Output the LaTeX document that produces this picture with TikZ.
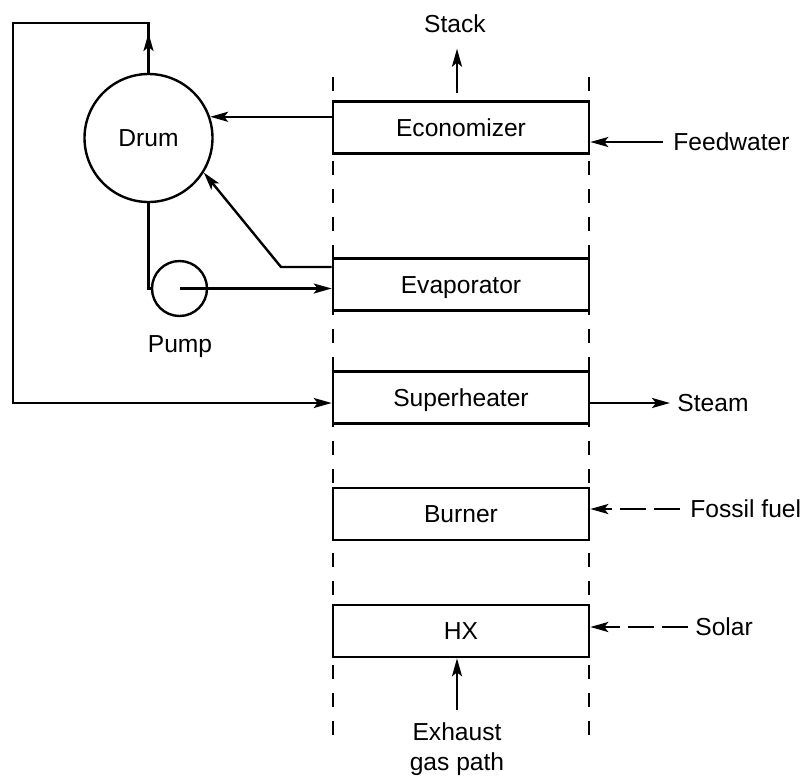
\documentclass[tikz,border=0pt]{standalone}
\usepackage{fontspec}
\setmainfont{Liberation Sans}
\usetikzlibrary{arrows.meta,calc}
\begin{document}
\begin{tikzpicture}[x=0.5pt,y=-0.5pt,font=\fontsize{12.3}{15}\selectfont]
\tikzset{
 box/.style={draw, fill=white, line width=1.3pt, minimum width=128pt, minimum height=26pt, inner sep=0pt, text height=8.8pt, text depth=0pt},
 lbl/.style={inner sep=0pt, text height=8.8pt, text depth=0pt},
 plainline/.style={line width=1.2pt},
 conn/.style={line width=1.2pt, -{Stealth[length=9pt,width=5pt,inset=2pt]}},
 guide/.style={line width=1.4pt, dash pattern=on 7pt off 7pt},
 fuel/.style={conn, dash pattern=on 13pt off 4pt}
}
\useasboundingbox (0,0) rectangle (809,778);
% gas path guide lines
\coordinate (gl1) at (333,77);
\coordinate (gl2) at (333,745);
\coordinate (gr1) at (589,77);
\coordinate (gr2) at (589,745);
\draw[guide] (gl1) -- (gl2);
\draw[guide] (gr1) -- (gr2);
% boxes
\node[box] (econ) at (461,127.5) {Economizer};
\node[box] (evap) at (461,284.5) {Evaporator};
\node[box] (super) at (461,397.5) {Superheater};
\node[box] (burner) at (461,514) {Burner};
\node[box] (hx) at (461,631) {HX};
% drum and pump
\node[circle, draw, line width=1.2pt, minimum size=64pt, inner sep=0pt] (drum) at (148.5,138) {Drum};
\node[circle, draw, line width=1.2pt, minimum size=27.5pt, inner sep=0pt] (pump) at (179.5,288.5) {};
\node[anchor=base, inner sep=0pt] (pumplbl) at (180,352) {Pump};
% labels
\node[anchor=base, inner sep=0pt] (stack) at (455,32) {Stack};
\node[lbl, anchor=west] (feed) at (673,142) {Feedwater};
\node[lbl, anchor=west] (steam) at (677,403) {Steam};
\node[lbl, anchor=west] (fossil) at (690,509) {Fossil fuel};
\node[lbl, anchor=west] (solar) at (695,627) {Solar};
\node[anchor=north, inner sep=0pt, align=center] (exh) at (457,722) {Exhaust\\gas path};
% connectors
\coordinate (stackfoot) at (457,93);
\draw[conn, shorten >=8pt] (stackfoot) -- (stackfoot |- stack.south);
\draw[conn] ([xshift=-5pt]feed.west) -- (econ.east |- feed.west);
\draw[conn] (super.east |- steam.west) -- ([xshift=-3.5pt]steam.west);
\draw[fuel] ([xshift=-5pt]fossil.west) -- (burner.east |- fossil.west);
\draw[fuel] ([xshift=-3.5pt]solar.west) -- (hx.east |- solar.west);
\draw[conn] ([yshift=6pt]exh.north) -- (exh.north |- hx.south);
% drum loop
\coordinate (tl) at (13,23);
\coordinate (bl) at (13,403);
\draw[conn] (drum.north) -- (drum.north |- tl) -- (tl) -- (bl) -- (super.west |- bl);
\draw[conn] (drum.north) -- ($(drum.north |- tl)+(0,10)$);
\draw[conn] (econ.west |- drum.19) -- (drum.19);
\coordinate (bend) at (281,267);
\draw[conn] ($(evap.west)+(0,-17.5)$) -- (bend) -- (drum.-32);
\draw[plainline] (drum.south) |- (pump.west);
\draw[conn] (pump.center) -- (evap.west |- pump.center);
\end{tikzpicture}
\end{document}
